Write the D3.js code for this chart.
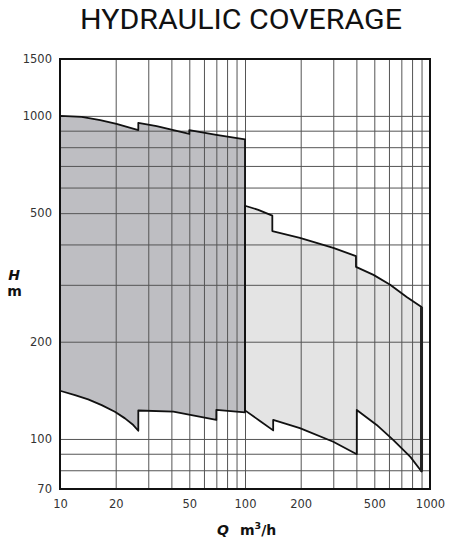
<!DOCTYPE html>
<html><head><meta charset="utf-8">
<script src="https://cdn.jsdelivr.net/npm/d3@7"></script>
<style>
body{margin:0;background:#fff;}
svg{display:block;}
</style></head>
<body><svg id="c" width="454" height="543"></svg>
<script>
// ---- data ----
const xTicks = [10, 20, 50, 100, 200, 500, 1000];
const yTicks = [70, 100, 200, 500, 1000, 1500];
const xGrid = [20, 30, 40, 50, 60, 70, 80, 90, 100, 200, 300, 400, 500, 600, 700, 800, 900];
const yGrid = [80, 90, 100, 200, 300, 400, 500, 600, 700, 800, 900, 1000];

// dark region (Q 10..100)
const darkTopQ = [10, 13.1, 16.5, 20.2, 26.5, 26.5, 33.3, 50, 50, 70, 100];
const darkTopH = [1000, 993, 971, 944, 904, 952, 930, 879, 904, 874, 846];
const darkBotQ = [10, 12.05, 14.2, 16.8, 19.8, 22.45, 24.9, 26.5, 26.5, 41, 70, 70, 100];
const darkBotH = [141, 136.7, 132.6, 127.3, 121.4, 115.8, 110.4, 106, 122.5, 121.5, 114.5, 123, 120.9];

// light region (Q 100..900)
const lightTopQ = [100, 118, 140.5, 140.5, 198, 300, 398, 398, 495, 609, 748, 900];
const lightTopH = [527, 512, 491, 440, 419.5, 390.6, 368, 341, 322, 300, 275, 256];
const lightBotQ = [100, 121, 142, 142, 198, 300, 402, 402, 515, 632, 783, 900];
const lightBotH = [122.6, 113.5, 106.3, 114.5, 108, 98, 89.7, 123, 110.5, 99.3, 88, 79.3];

// ---- layout ----
const svg = d3.select("#c");
const L = 60, R = 430, T = 59, B = 489;
const x = d3.scaleLog().domain([10, 1000]).range([L, R]);
const y = d3.scaleLog().domain([70, 1500]).range([B, T]);

function region(tq, th, bq, bh) {
  const top = tq.map((q, i) => [q, th[i]]);
  const bot = bq.map((q, i) => [q, bh[i]]).reverse();
  return top.concat(bot);
}
const line = d3.line().x(d => x(d[0])).y(d => y(d[1]));

// fills
const lightPts = region(lightTopQ, lightTopH, lightBotQ, lightBotH);
const darkPts = region(darkTopQ, darkTopH, darkBotQ, darkBotH);
svg.append("path").attr("d", line(lightPts) + "Z").attr("fill", "#e4e4e4");
svg.append("path").attr("d", line(darkPts) + "Z").attr("fill", "#bebec2");

// grid
const gx = svg.append("g").attr("transform", `translate(0,${B})`)
  .call(d3.axisBottom(x).tickValues(xGrid).tickSize(-(B - T)).tickFormat(""));
gx.select(".domain").remove();
gx.selectAll("line").attr("stroke", "#555").attr("stroke-width", 1);
const gy = svg.append("g").attr("transform", `translate(${L},0)`)
  .call(d3.axisLeft(y).tickValues(yGrid).tickSize(-(R - L)).tickFormat(""));
gy.select(".domain").remove();
gy.selectAll("line").attr("stroke", "#555").attr("stroke-width", 1);

// outlines
svg.append("path").attr("d", line(lightPts) + "Z").attr("fill", "none")
  .attr("stroke", "#111").attr("stroke-width", 1.8).attr("stroke-linejoin", "round");
svg.append("path").attr("d", line(darkPts) + "Z").attr("fill", "none")
  .attr("stroke", "#111").attr("stroke-width", 1.8).attr("stroke-linejoin", "round");
// heavier right edge of light region
svg.append("path").attr("d", line([[lightTopQ[lightTopQ.length-1], lightTopH[lightTopH.length-1]],
  [lightBotQ[lightBotQ.length-1], lightBotH[lightBotH.length-1]]]))
  .attr("stroke", "#222").attr("stroke-width", 3);

// frame
svg.append("rect").attr("x", L).attr("y", T).attr("width", R - L).attr("height", B - T)
  .attr("fill", "none").attr("stroke", "#111").attr("stroke-width", 2);

// tick labels
const fmt = d3.format("d");
const ax = svg.append("g").attr("transform", `translate(0,${B})`)
  .call(d3.axisBottom(x).tickValues(xTicks).tickSize(0).tickPadding(11).tickFormat(fmt));
ax.select(".domain").remove();
ax.selectAll("text").attr("font-family", "DejaVu Sans").attr("font-size", 11.5).attr("fill", "#333");
const ay = svg.append("g").attr("transform", `translate(${L},0)`)
  .call(d3.axisLeft(y).tickValues(yTicks).tickSize(0).tickPadding(8).tickFormat(fmt));
ay.select(".domain").remove();
ay.selectAll("text").attr("font-family", "DejaVu Sans").attr("font-size", 11.5).attr("fill", "#333");

// title
svg.append("text").attr("x", 241).attr("y", 28.5).attr("text-anchor", "middle")
  .attr("font-family", "Roboto").attr("font-weight", 400).attr("font-size", 28)
  .attr("textLength", 322).attr("lengthAdjust", "spacingAndGlyphs")
  .attr("fill", "#111").text("HYDRAULIC COVERAGE");

// axis titles
svg.append("text").attr("x", 14).attr("y", 280).attr("text-anchor", "middle")
  .attr("font-family", "DejaVu Sans").attr("font-weight", "bold").attr("font-style", "italic")
  .attr("font-size", 14).attr("fill", "#111").text("H");
svg.append("text").attr("x", 14.5).attr("y", 295.5).attr("text-anchor", "middle")
  .attr("font-family", "DejaVu Sans").attr("font-weight", "bold")
  .attr("font-size", 14).attr("fill", "#111").text("m");
svg.append("text").attr("x", 223).attr("y", 535).attr("text-anchor", "middle")
  .attr("font-family", "DejaVu Sans").attr("font-weight", "bold").attr("font-style", "italic")
  .attr("font-size", 14).attr("fill", "#111").text("Q");
const u = svg.append("text").attr("x", 240).attr("y", 535)
  .attr("font-family", "DejaVu Sans").attr("font-weight", "bold")
  .attr("font-size", 14).attr("fill", "#111");
u.append("tspan").text("m");
u.append("tspan").attr("font-size", 9.5).attr("dy", -6).text("3");
u.append("tspan").attr("dy", 6).text("/h");
</script></body></html>
